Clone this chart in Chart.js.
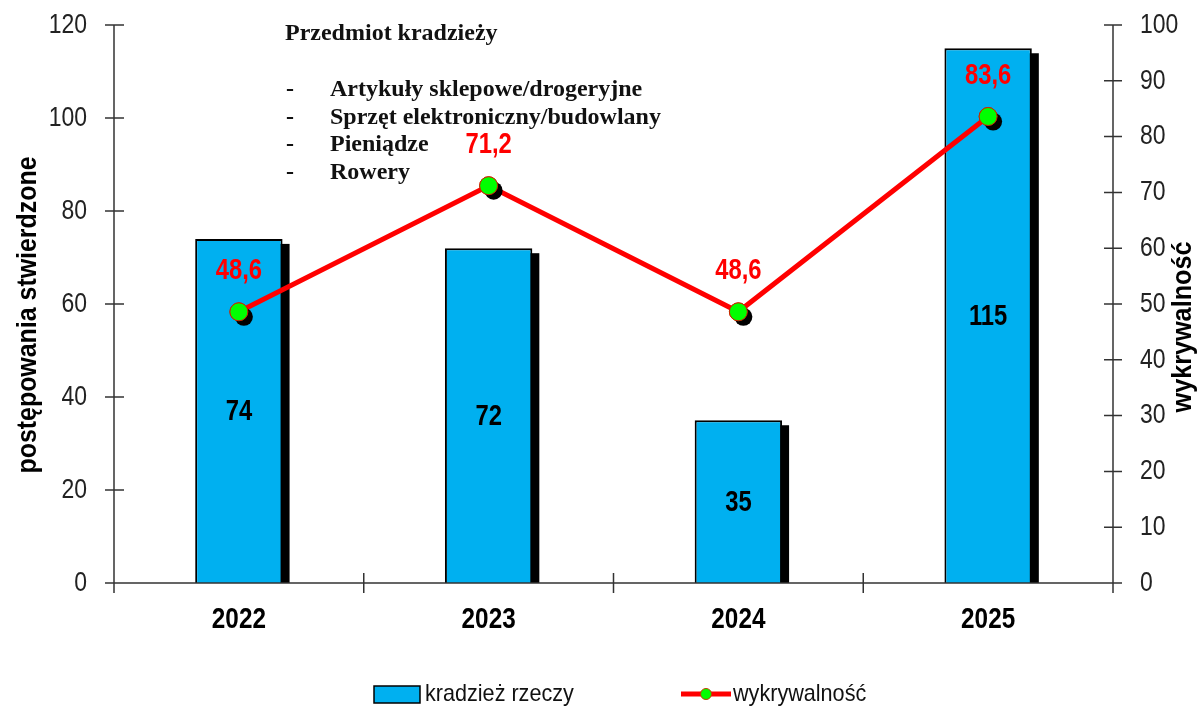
<!DOCTYPE html>
<html>
<head>
<meta charset="utf-8">
<script src="https://cdn.jsdelivr.net/npm/chart.js@4.4.1/dist/chart.umd.min.js"></script>
<style>
html,body{margin:0;padding:0;background:#fff;}
#wrap{width:1203px;height:706px;position:relative;}
</style>
</head>
<body>
<div id="wrap"><canvas id="c" width="1203" height="706"></canvas></div>
<script>
const categories = ['2022', '2023', '2024', '2025'];
const kradziezRzeczy = [74, 72, 35, 115];
const wykrywalnosc = [48.6, 71.2, 48.6, 83.6];
const leftTicks = [0, 20, 40, 60, 80, 100, 120];
const rightTicks = [0, 10, 20, 30, 40, 50, 60, 70, 80, 90, 100];
const noteTitle = 'Przedmiot kradzieży';
const noteItems = ['Artykuły sklepowe/drogeryjne', 'Sprzęt elektroniczny/budowlany', 'Pieniądze', 'Rowery'];
const leftTitle = 'postępowania stwierdzone';
const rightTitle = 'wykrywalność';
const legendLabels = ['kradzież rzeczy', 'wykrywalność'];

const SANS = "'Liberation Sans', Arial, sans-serif";
const SERIF = "'Liberation Serif', 'Times New Roman', serif";
const AXIS = '#333';

const fmt = v => String(v).replace('.', ',');

function txt(ctx, s, x, y, font, color, align, sx, rot) {
  ctx.save();
  ctx.translate(x, y);
  if (rot) ctx.rotate(rot);
  ctx.scale(sx, 1);
  ctx.font = font;
  ctx.fillStyle = color;
  ctx.textAlign = align;
  ctx.textBaseline = 'middle';
  ctx.fillText(s, 0, 0);
  ctx.restore();
}

const decor = {
  id: 'decor',
  beforeDatasetsDraw(chart) {
    const ctx = chart.ctx;
    const meta = chart.getDatasetMeta(0);
    ctx.save();
    ctx.fillStyle = '#000';
    meta.data.forEach(el => {
      const p = el.getProps(['x', 'y', 'base', 'width'], true);
      ctx.fillRect(p.x - p.width / 2 + 7, p.y + 5, p.width, p.base - p.y - 5);
    });
    ctx.restore();
  },
  afterDatasetsDraw(chart) {
    const ctx = chart.ctx;
    const area = chart.chartArea;
    const lineMeta = chart.getDatasetMeta(1);
    ctx.save();
    ctx.fillStyle = '#000';
    lineMeta.data.forEach(el => {
      ctx.beginPath();
      ctx.arc(el.x + 5, el.y + 5, 9, 0, Math.PI * 2);
      ctx.fill();
    });
    ctx.restore();
    lineMeta.data.forEach(el => el.draw(ctx, area));

    const xs = chart.scales.x, yl = chart.scales.y, yr = chart.scales.y1;
    ctx.save();
    ctx.strokeStyle = AXIS;
    ctx.lineWidth = 1.5;
    ctx.beginPath();
    ctx.moveTo(area.left, area.top); ctx.lineTo(area.left, area.bottom + 10);
    ctx.moveTo(area.right, area.top); ctx.lineTo(area.right, area.bottom + 10);
    ctx.moveTo(area.left - 9, area.bottom); ctx.lineTo(area.right + 9, area.bottom);
    leftTicks.forEach(v => {
      const y = yl.getPixelForValue(v);
      ctx.moveTo(area.left - 9, y); ctx.lineTo(area.left + 10, y);
    });
    rightTicks.forEach(v => {
      const y = yr.getPixelForValue(v);
      ctx.moveTo(area.right - 9, y); ctx.lineTo(area.right + 9, y);
    });
    const half = (xs.getPixelForValue(1) - xs.getPixelForValue(0)) / 2;
    for (let i = 1; i < categories.length; i++) {
      const x = xs.getPixelForValue(i) - half;
      ctx.moveTo(x, area.bottom - 10); ctx.lineTo(x, area.bottom + 10);
    }
    ctx.stroke();
    ctx.restore();

    // tick labels
    leftTicks.forEach(v => txt(ctx, String(v), area.left - 27, yl.getPixelForValue(v), "28px " + SANS, '#222', 'right', 0.82));
    rightTicks.forEach(v => txt(ctx, String(v), area.right + 27, yr.getPixelForValue(v), "28px " + SANS, '#222', 'left', 0.82));
    categories.forEach((c, i) => txt(ctx, c, xs.getPixelForValue(i), 620, "bold 30px " + SANS, '#000', 'center', 0.81));

    // value labels
    chart.getDatasetMeta(0).data.forEach((el, i) => {
      txt(ctx, String(kradziezRzeczy[i]), el.x, (el.y + el.base) / 2 + 1, "bold 29px " + SANS, '#000', 'center', 0.82);
    });
    lineMeta.data.forEach((el, i) => {
      txt(ctx, fmt(wykrywalnosc[i]), el.x, el.y - 41, "bold 29px " + SANS, '#FF0000', 'center', 0.82);
    });

    // axis titles
    txt(ctx, leftTitle, 28, 315, "bold 28px " + SANS, '#000', 'center', 0.89, -Math.PI / 2);
    txt(ctx, rightTitle, 1183, 327, "bold 28px " + SANS, '#000', 'center', 0.9, -Math.PI / 2);

    // annotation note
    ctx.save();
    ctx.font = "bold 24px " + SERIF;
    ctx.fillStyle = '#111';
    ctx.textBaseline = 'alphabetic';
    ctx.textAlign = 'left';
    ctx.fillText(noteTitle, 285, 40);
    noteItems.forEach((t, i) => {
      const y = 96 + i * 27.7;
      ctx.fillText('-', 286, y);
      ctx.fillText(t, 330, y);
    });
    ctx.restore();

    // legend
    ctx.save();
    ctx.fillStyle = '#00B0F0';
    ctx.fillRect(374, 686, 46, 17);
    ctx.strokeStyle = '#000';
    ctx.lineWidth = 1.5;
    ctx.strokeRect(374, 686, 46, 17);
    ctx.strokeStyle = '#FF0000';
    ctx.lineWidth = 5;
    ctx.beginPath(); ctx.moveTo(681, 694); ctx.lineTo(731, 694); ctx.stroke();
    ctx.fillStyle = '#00FF00';
    ctx.strokeStyle = '#C04000';
    ctx.lineWidth = 1;
    ctx.beginPath(); ctx.arc(706, 694, 5.5, 0, Math.PI * 2); ctx.fill(); ctx.stroke();
    ctx.restore();
    txt(ctx, legendLabels[0], 425, 694, "24px " + SANS, '#111', 'left', 0.9);
    txt(ctx, legendLabels[1], 733, 694, "24px " + SANS, '#111', 'left', 0.9);
  }
};

new Chart(document.getElementById('c'), {
  type: 'bar',
  data: {
    labels: categories,
    datasets: [
      {
        type: 'bar',
        label: legendLabels[0],
        data: kradziezRzeczy,
        yAxisID: 'y',
        backgroundColor: '#00B0F0',
        borderColor: '#000',
        borderWidth: 2,
        barPercentage: 0.35,
        categoryPercentage: 1,
        grouped: false,
        order: 2
      },
      {
        type: 'line',
        label: legendLabels[1],
        data: wykrywalnosc,
        yAxisID: 'y1',
        borderColor: '#FF0000',
        borderWidth: 5,
        pointRadius: 9,
        pointBackgroundColor: '#00FF00',
        pointBorderColor: '#D02000',
        pointBorderWidth: 1,
        tension: 0,
        order: 1
      }
    ]
  },
  options: {
    responsive: false,
    animation: false,
    layout: { padding: { top: 25, left: 0, right: 0, bottom: 0 } },
    plugins: { legend: { display: false }, tooltip: { enabled: false } },
    scales: {
      x: {
        offset: true,
        grid: { display: false, drawTicks: false },
        border: { display: false },
        ticks: { display: false },
        afterFit(s) { s.height = 123; }
      },
      y: {
        position: 'left',
        min: 0, max: 120,
        afterBuildTicks(s) { s.ticks = leftTicks.map(v => ({ value: v })); },
        grid: { display: false, drawTicks: false },
        border: { display: false },
        ticks: { display: false },
        afterFit(s) { s.width = 114; }
      },
      y1: {
        position: 'right',
        min: 0, max: 100,
        afterBuildTicks(s) { s.ticks = rightTicks.map(v => ({ value: v })); },
        grid: { display: false, drawTicks: false },
        border: { display: false },
        ticks: { display: false },
        afterFit(s) { s.width = 90; }
      }
    }
  },
  plugins: [decor]
});
</script>
</body>
</html>
